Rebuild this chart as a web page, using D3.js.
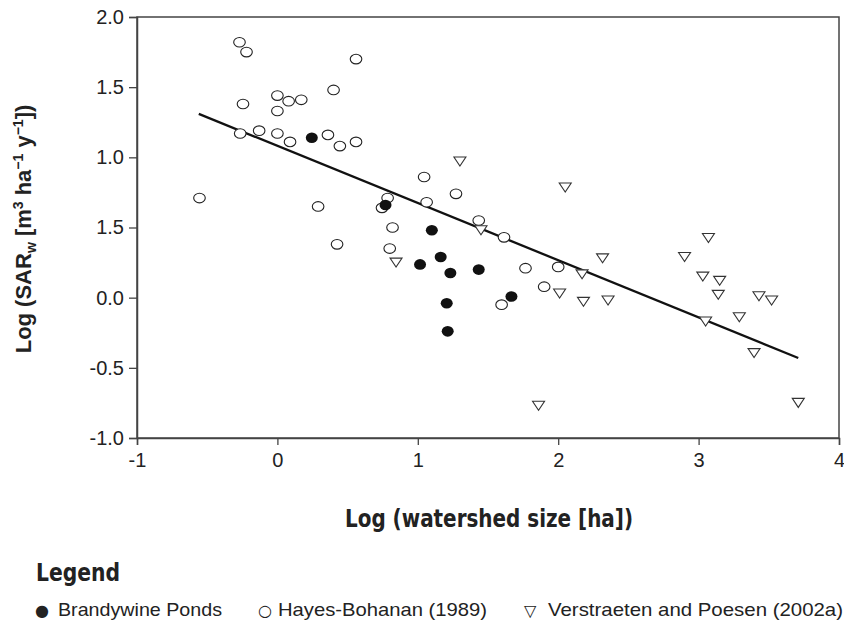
<!DOCTYPE html>
<html>
<head>
<meta charset="utf-8">
<script src="https://cdn.jsdelivr.net/npm/d3@7"></script>
<style>
  body { margin: 0; background: #fff; }
  svg text { fill: #222; }
</style>
</head>
<body>
<svg id="chart" width="844" height="620"></svg>
<script>
// data (log watershed size, log SAR_w)
var brandywine = [
  [0.245, 1.14], [0.77, 0.66], [1.10, 0.48], [1.016, 0.237], [1.163, 0.29],
  [1.232, 0.176], [1.434, 0.20], [1.206, -0.04], [1.213, -0.24], [1.667, 0.008]
];
var hayes = [
  [-0.27, 1.82], [-0.22, 1.75], [-0.245, 1.38], [0.0, 1.44], [0.08, 1.40],
  [0.17, 1.41], [0.0, 1.33], [0.40, 1.48], [0.56, 1.70], [-0.265, 1.17],
  [-0.13, 1.19], [0.0, 1.17], [0.09, 1.11], [0.36, 1.16], [0.445, 1.08],
  [0.56, 1.11], [-0.555, 0.71], [0.29, 0.65], [0.785, 0.71], [0.745, 0.64],
  [0.82, 0.50], [0.425, 0.38], [0.80, 0.35], [1.045, 0.86], [1.063, 0.68],
  [1.272, 0.74], [1.434, 0.55], [1.614, 0.43], [1.767, 0.21], [2.0, 0.219],
  [1.90, 0.078], [1.597, -0.05]
];
var verstraeten = [
  [1.30, 0.97], [0.845, 0.25], [1.45, 0.48], [2.05, 0.785], [2.316, 0.28],
  [2.17, 0.166], [2.01, 0.03], [2.18, -0.03], [2.355, -0.02], [2.90, 0.29],
  [3.07, 0.425], [3.03, 0.15], [3.15, 0.12], [3.14, 0.02], [3.05, -0.17],
  [3.29, -0.14], [3.43, 0.01], [3.52, -0.02], [3.395, -0.395], [1.86, -0.77],
  [3.71, -0.75]
];
var fitLine = [[-0.56, 1.31], [3.71, -0.43]];

var xTicks = [-1, 0, 1, 2, 3, 4];
var yTicks = [2, 1.5, 1, 0.5, 0, -0.5, -1];
var yTickLabels = ["2.0", "1.5", "1.0", "1.5", "0.0", "-0.5", "-1.0"];

var legendSymbols = ["\u25CF", "\u25CB", "\u25BD"];
var legendLabels = ["Brandywine Ponds", "Hayes-Bohanan (1989)", "Verstraeten and Poesen (2002a)"];

var svg = d3.select("#chart");
var plotL = 137, plotR = 839, plotT = 17, plotB = 438;
var sansFont = "Liberation Sans, Arial, sans-serif";
var condFont = "DejaVu Sans Condensed, Liberation Sans Narrow, sans-serif";

var x = d3.scaleLinear().domain([-1, 4]).range([plotL, plotR]);
var y = d3.scaleLinear().domain([-1, 2]).range([plotB, plotT]);

// frame
svg.append("rect")
  .attr("x", plotL).attr("y", plotT)
  .attr("width", plotR - plotL).attr("height", plotB - plotT)
  .attr("fill", "none").attr("stroke", "#444").attr("stroke-width", 1.5);

// axes
var xAxis = svg.append("g")
  .attr("transform", "translate(0," + plotB + ")")
  .call(d3.axisBottom(x).tickValues(xTicks).tickSize(7).tickPadding(8)
    .tickFormat(function(d) { return String(d); }));
var yAxis = svg.append("g")
  .attr("transform", "translate(" + plotL + ",0)")
  .call(d3.axisLeft(y).tickValues(yTicks).tickSize(8).tickPadding(5)
    .tickFormat(function(d, i) { return yTickLabels[i]; }));
[xAxis, yAxis].forEach(function(a) {
  a.attr("font-family", sansFont).attr("font-size", 20);
  a.select(".domain").attr("stroke", "#444").attr("stroke-width", 1.5);
  a.selectAll(".tick line").attr("stroke", "#444").attr("stroke-width", 1.3);
  a.selectAll(".tick text").attr("fill", "#222");
});

// regression line
svg.append("path")
  .datum(fitLine)
  .attr("fill", "none")
  .attr("stroke", "#111")
  .attr("stroke-width", 2.3)
  .attr("d", d3.line().x(function(d) { return x(d[0]); }).y(function(d) { return y(d[1]); }));

// points
svg.append("g").selectAll("ellipse").data(hayes).join("ellipse")
  .attr("cx", function(d) { return x(d[0]); })
  .attr("cy", function(d) { return y(d[1]); })
  .attr("rx", 5.8).attr("ry", 4.8)
  .attr("fill", "#fff").attr("stroke", "#222").attr("stroke-width", 1.1);

svg.append("g").selectAll("ellipse").data(brandywine).join("ellipse")
  .attr("cx", function(d) { return x(d[0]); })
  .attr("cy", function(d) { return y(d[1]); })
  .attr("rx", 6).attr("ry", 5.3)
  .attr("fill", "#111");

svg.append("g").selectAll("path").data(verstraeten).join("path")
  .attr("transform", function(d) { return "translate(" + x(d[0]) + "," + y(d[1]) + ")"; })
  .attr("d", "M-6,-4.5L6,-4.5L0,4.5Z")
  .attr("fill", "#fff").attr("stroke", "#333").attr("stroke-width", 1.1);

// axis titles
svg.append("text")
  .attr("x", 345).attr("y", 527)
  .attr("font-family", condFont)
  .attr("font-size", 25).attr("font-weight", "bold")
  .attr("textLength", 288).attr("lengthAdjust", "spacingAndGlyphs")
  .text("Log (watershed size [ha])");

var yt = svg.append("text")
  .attr("transform", "translate(31,229) rotate(-90)")
  .attr("text-anchor", "middle")
  .attr("font-family", sansFont)
  .attr("font-size", 22).attr("font-weight", "bold");
yt.append("tspan").text("Log (SAR");
yt.append("tspan").attr("font-size", 14).attr("dy", 5).text("w");
yt.append("tspan").attr("dy", -5).text(" [m");
yt.append("tspan").attr("font-size", 14).attr("dy", -8).text("3");
yt.append("tspan").attr("dy", 8).text(" ha");
yt.append("tspan").attr("font-size", 14).attr("dy", -8).text("\u22121");
yt.append("tspan").attr("dy", 8).text(" y");
yt.append("tspan").attr("font-size", 14).attr("dy", -8).text("\u22121");
yt.append("tspan").attr("dy", 8).text("])");

// legend
svg.append("text")
  .attr("x", 36).attr("y", 581)
  .attr("font-family", condFont)
  .attr("font-size", 24).attr("font-weight", "bold")
  .attr("textLength", 84).attr("lengthAdjust", "spacingAndGlyphs")
  .text("Legend");

var symX = [35, 258, 524];
var labelX = [58, 278, 548];
var labelW = [164, 209, 295];
var leg = svg.append("g").attr("font-family", sansFont);
leg.selectAll("text.sym").data(legendSymbols).join("text")
  .attr("class", "sym")
  .attr("x", function(d, i) { return symX[i]; })
  .attr("y", 616)
  .attr("font-size", 16)
  .attr("font-family", "DejaVu Sans, sans-serif")
  .text(function(d) { return d; });
leg.selectAll("text.lab").data(legendLabels).join("text")
  .attr("class", "lab")
  .attr("x", function(d, i) { return labelX[i]; })
  .attr("y", 616)
  .attr("font-size", 18.5)
  .attr("textLength", function(d, i) { return labelW[i]; })
  .attr("lengthAdjust", "spacingAndGlyphs")
  .text(function(d) { return d; });
</script>
</body>
</html>
